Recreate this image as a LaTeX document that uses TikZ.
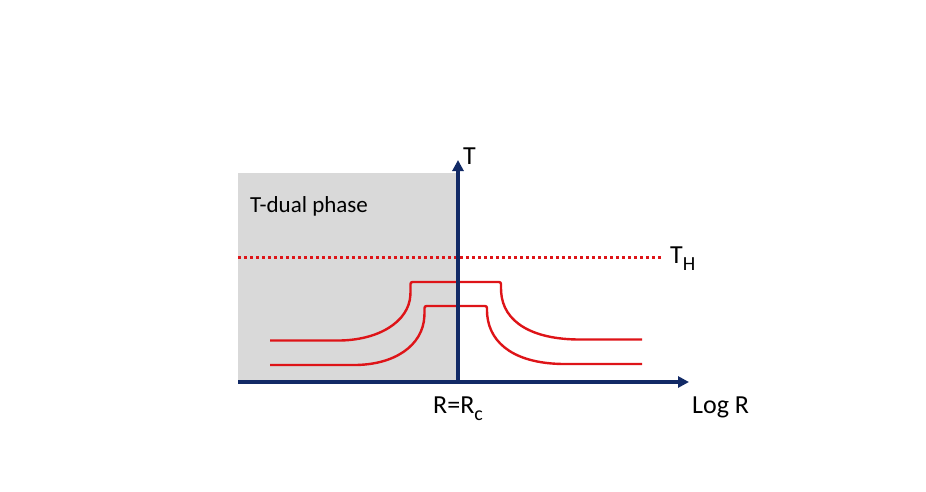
\documentclass[tikz,border=0pt]{standalone}
\usepackage{fontspec}
\setmainfont{Carlito}
\usetikzlibrary{arrows.meta}
\definecolor{axisblue}{RGB}{18,42,102}
\definecolor{curvered}{RGB}{222,20,24}
\definecolor{phasegray}{RGB}{217,217,217}
\tikzset{
  axisline/.style={draw=axisblue,line width=3.1pt,-{Triangle[length=11pt,width=11pt]}},
  curve/.style={draw=curvered,line width=2.4pt,rounded corners=2pt},
  hagedorn/.style={draw=curvered,line width=3pt,dash pattern=on 3pt off 3pt},
  lbl/.style={font=\fontsize{26}{28}\selectfont,inner sep=0pt},
}
\newcommand{\mysub}[1]{\raisebox{-0.3em}{\fontsize{20}{21}\selectfont #1}}
\begin{document}
\begin{tikzpicture}[x=1pt,y=-1pt]
\useasboundingbox (0,0) rectangle (926,491);
% gray T-dual region
\fill[phasegray] (238,173) rectangle (458,382);
\coordinate (O) at (458,382);
\coordinate (Ttop) at (458,160);
\coordinate (Xleft) at (238,382);
\coordinate (Xright) at (689,382);
% dotted Hagedorn line
\coordinate (THl) at (238,257);
\coordinate (THr) at (662,257);
\draw[hagedorn] (THl) -- (THr);
% curves
\draw[curve] (270,340.5) -- (336,340.5)
  .. controls (378,340.5) and (409,322) .. (410.5,293)
  -- (410.5,282) -- (501,282)
  -- (501,290) .. controls (503,322) and (532,339.5) .. (582,339.5) -- (642,339.5);
\draw[curve] (270,365) -- (352,365)
  .. controls (394,365) and (423,346) .. (424.5,314)
  -- (424.5,306) -- (487,306)
  -- (487,313) .. controls (490,345) and (517,364) .. (567,364) -- (642,364);
% axes
\draw[axisline] (Xleft) -- (Xright);
\draw[axisline] (O) -- (Ttop);
% labels
\node[lbl,anchor=base west] (Tlab) at (463,164) {T};
\node[lbl,anchor=base west] (THlab) at (670,263) {T\mysub{H}};
\node[lbl,anchor=base west] (LogR) at (692,413) {Log R};
\node[lbl,anchor=base] (Rc) at (458,413) {R=R\mysub{c}};
\node[lbl,anchor=base west,font=\fontsize{23}{25}\selectfont] (phase) at (250,212) {T-dual phase};
\end{tikzpicture}
\end{document}
